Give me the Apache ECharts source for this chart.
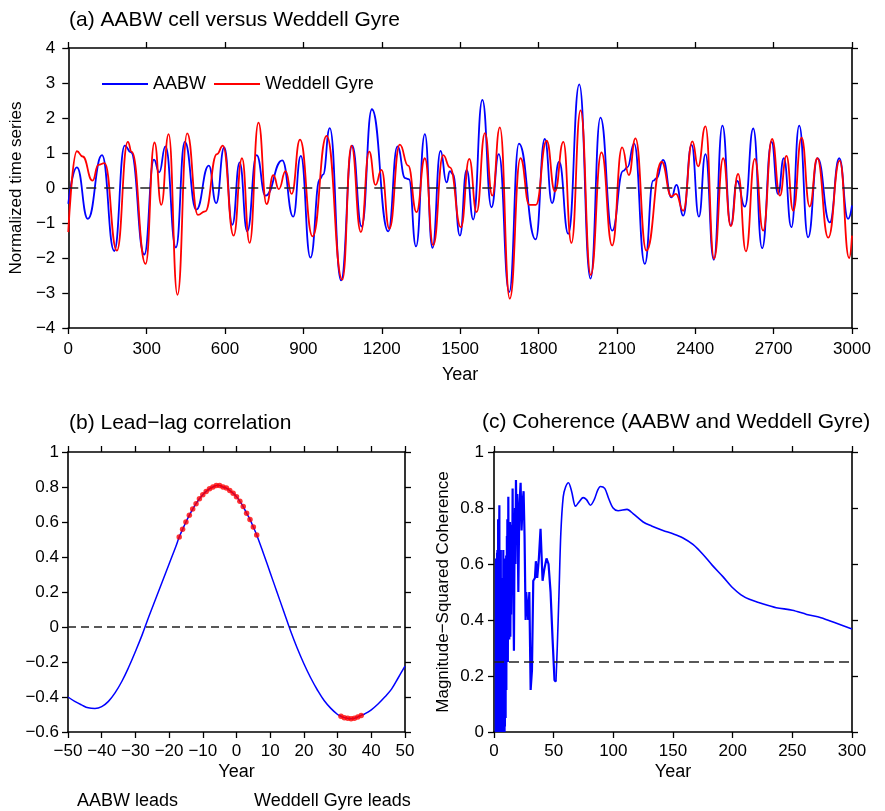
<!DOCTYPE html>
<html><head><meta charset="utf-8">
<script src="https://cdn.jsdelivr.net/npm/echarts@6/dist/echarts.min.js"></script>
<style>html,body{margin:0;padding:0;background:#fff}#c{width:885px;height:811px}</style>
</head><body><div id="c"></div>
<script>
// (a) normalized time series, [year, value] at read-off turning points
const aabw = [[0,-0.45],[33,0.59],[75,-0.88],[129,0.94],[176,-1.80],[216,1.21],[240,1.02],[291,-1.90],[328,0.81],[348,0.45],[372,1.19],[412,-1.70],[446,1.32],[490,-0.62],[538,0.64],[566,-0.43],[597,1.16],[628,-1.05],[656,0.73],[685,-1.24],[721,0.94],[755,-0.22],[819,0.79],[861,-0.82],[890,0.92],[927,-1.99],[963,0.25],[975,0.38],[1001,1.71],[1044,-2.64],[1087,1.21],[1123,-1.10],[1162,2.25],[1225,-1.24],[1260,1.19],[1290,0.28],[1304,0.25],[1331,-1.67],[1365,1.54],[1394,-1.71],[1425,1.06],[1448,0.16],[1461,0.48],[1472,0.40],[1499,-1.36],[1525,0.52],[1550,-0.90],[1585,2.52],[1620,-0.55],[1648,0.97],[1688,-2.97],[1725,1.27],[1789,-1.47],[1824,1.40],[1852,-0.43],[1879,0.75],[1914,-1.31],[1956,2.96],[1999,-2.59],[2037,2.01],[2082,-1.22],[2124,0.49],[2140,0.59],[2166,1.27],[2207,-2.17],[2239,0.21],[2252,0.28],[2277,0.80],[2309,-0.27],[2328,0.09],[2354,-0.79],[2386,1.23],[2414,-0.82],[2439,0.97],[2471,-2.05],[2504,1.78],[2536,-1.07],[2560,0.20],[2590,-0.53],[2622,1.70],[2656,-1.72],[2692,1.32],[2717,-0.17],[2739,0.85],[2768,-1.12],[2798,1.78],[2832,-1.41],[2868,0.85],[2915,-0.98],[2951,0.85],[2985,-0.88],[3000,-0.50]];
const weddell = [[0,-1.26],[33,1.05],[55,0.90],[93,0.21],[115,0.66],[139,0.71],[186,-1.79],[228,1.32],[243,1.03],[296,-2.17],[330,1.30],[356,-0.48],[384,1.54],[418,-3.05],[455,1.56],[496,-0.77],[524,-0.67],[569,0.97],[592,1.21],[633,-1.36],[665,0.85],[694,-1.57],[728,1.87],[759,-0.46],[785,0.37],[806,-0.03],[832,0.48],[855,-0.17],[887,1.38],[935,-1.38],[989,1.49],[1049,-2.62],[1084,1.21],[1120,-1.26],[1152,1.04],[1176,0.09],[1199,0.52],[1229,-1.17],[1269,1.24],[1301,0.64],[1333,-0.69],[1365,0.85],[1397,-1.64],[1435,0.94],[1461,0.59],[1503,-1.12],[1535,0.83],[1563,-0.69],[1595,1.57],[1623,-0.22],[1652,1.73],[1690,-3.16],[1731,0.85],[1765,-0.48],[1790,-0.48],[1831,1.35],[1863,-0.10],[1895,1.32],[1926,-1.57],[1961,2.22],[2000,-2.48],[2041,1.02],[2082,-1.64],[2120,1.16],[2146,0.37],[2171,1.42],[2213,-1.79],[2271,0.75],[2309,-0.24],[2326,-0.17],[2354,-0.65],[2389,1.33],[2411,0.62],[2439,1.76],[2472,-2.02],[2507,0.85],[2536,-1.09],[2564,0.40],[2594,-1.81],[2628,0.83],[2660,-1.22],[2694,1.40],[2724,-0.22],[2749,0.92],[2775,-0.65],[2807,1.44],[2838,-0.53],[2867,0.85],[2909,-1.42],[2953,0.78],[2989,-2.00],[3000,-1.36]];

// (b) lead-lag correlation, [lag, r]
const lagLine = [[-50,-0.40],[-48,-0.425],[-46,-0.445],[-44,-0.462],[-42,-0.465],[-40,-0.455],[-38,-0.425],[-36,-0.375],[-34,-0.31],[-32,-0.23],[-30,-0.14],[-28,-0.045],[-26,0.06],[-24,0.16],[-22,0.26],[-20,0.36],[-18,0.46],
  [-17,0.514],[-16,0.558],[-15,0.60],[-14,0.638],[-13,0.674],[-12,0.705],[-11,0.733],[-10,0.756],[-9,0.775],[-8,0.79],[-7,0.80],[-6,0.808],[-5,0.808],[-4,0.80],[-3,0.794],[-2,0.78],[-1,0.764],[0,0.745],[1,0.718],[2,0.688],[3,0.65],[4,0.615],[5,0.571],[6,0.526],
  [8,0.42],[10,0.31],[12,0.20],[14,0.09],[16,-0.02],[18,-0.12],[20,-0.21],[22,-0.29],[24,-0.36],[26,-0.42],[28,-0.465],[30,-0.50],
  [31,-0.51],[32,-0.518],[33,-0.522],[34,-0.524],[35,-0.522],[36,-0.514],[37,-0.505],
  [38,-0.497],[40,-0.473],[42,-0.44],[44,-0.40],[46,-0.355],[48,-0.29],[50,-0.223]];
const lagDots = [[-17,0.514],[-16,0.558],[-15,0.60],[-14,0.638],[-13,0.674],[-12,0.705],[-11,0.733],[-10,0.756],[-9,0.775],[-8,0.79],[-7,0.80],[-6,0.808],[-5,0.808],[-4,0.80],[-3,0.794],[-2,0.78],[-1,0.764],[0,0.745],[1,0.718],[2,0.688],[3,0.65],[4,0.615],[5,0.571],[6,0.526],
  [31,-0.51],[32,-0.518],[33,-0.522],[34,-0.524],[35,-0.522],[36,-0.514],[37,-0.505]];

// (c) magnitude-squared coherence, [period (yr), coherence]
const cohJagged = [[1.5,0.0],[1.65,0.62],[1.8,0.02],[1.95,0.60],[2.1,0.0],[2.25,0.58],[2.4,0.05],[2.55,0.64],[2.7,0.0],[2.85,0.65],[3.0,0.1],[3.15,0.60],[3.3,0.0],[3.45,0.76],[3.6,0.02],[3.75,0.70],[3.9,0.0],[4.05,0.65],[4.2,0.15],[4.35,0.72],[4.5,0.81],[4.65,0.0],[4.8,0.60],[4.95,0.05],[5.1,0.65],[5.25,0.0],[5.4,0.60],[5.55,0.1],[5.7,0.65],[5.85,0.0],[6.0,0.50],[6.15,0.05],[6.3,0.45],[6.45,0.0],[6.6,0.48],[6.75,0.1],[6.9,0.42],[7.05,0.0],[7.2,0.49],[7.35,0.05],[7.5,0.55],[7.65,0.0],[7.8,0.65],[7.95,0.1],[8.1,0.60],[8.25,0.0],[8.4,0.62],[8.55,0.05],[8.7,0.50],[8.85,0.0],[9.0,0.45],[9.15,0.02],[9.3,0.50],[9.45,0.1],[9.6,0.55],[9.75,0.05],[9.9,0.60],[10.05,0.2],[10.2,0.63],[10.35,0.15],[10.5,0.60],[10.65,0.30],[10.8,0.70],[11.0,0.35],[11.2,0.76],[11.6,0.25],[12.0,0.84],[12.4,0.45],[12.8,0.33],[13.1,0.60],[13.4,0.75],[13.7,0.34],[14.0,0.60],[14.3,0.42],[14.8,0.74],[15.2,0.50],[15.6,0.87],[15.9,0.60],[16.2,0.52],[16.7,0.29],[17.1,0.60],[17.6,0.80],[18.0,0.60],[18.4,0.90],[19.0,0.72],[19.5,0.85],[20.0,0.65],[20.4,0.50],[21.2,0.80],[22.3,0.89],[23.1,0.72],[24.0,0.82],[24.8,0.86],[25.6,0.70],[26.5,0.40],[27.0,0.50],[27.9,0.50],[28.7,0.40],[29.6,0.50],[30.7,0.15],[31.8,0.22],[32.9,0.54],[34.3,0.55],[35.1,0.61],[36.2,0.55],[37.6,0.62],[39.0,0.726],[40.7,0.54],[42.1,0.58],[44.0,0.62],[45.7,0.60],[47.4,0.50],[49.1,0.33],[50.7,0.185],[51.9,0.18]];
const cohSmooth = [[51.9,0.18],[53,0.30],[54.5,0.50],[56,0.71],[58,0.84],[60,0.875],[62.4,0.89],[65,0.86],[68.3,0.806],[71,0.82],[74.7,0.837],[77.5,0.83],[80.8,0.81],[84,0.83],[87,0.865],[89.2,0.877],[92.8,0.87],[96,0.835],[99.8,0.80],[104,0.79],[111.5,0.795],[116.5,0.78],[125,0.75],[132,0.736],[141.6,0.72],[150,0.708],[158,0.694],[166.7,0.67],[175,0.635],[183,0.595],[192,0.554],[200,0.515],[207,0.49],[214,0.474],[225,0.458],[236.5,0.444],[250,0.435],[262,0.42],[274,0.408],[287,0.388],[300,0.368]];
const cohThreshold = 0.25;

const FONT = '"Liberation Sans", Arial, Helvetica, sans-serif';
const minus = v => String(+(Math.round(v * 100) / 100)).replace('-', '\u2212');
const axLine = { show: true, lineStyle: { color: '#000', width: 1.6 } };
const axTick = { show: true, inside: false, length: 6, lineStyle: { color: '#000', width: 1.3 } };

function xAx(grid, pos, min, max, interval, labels, name, nameGap, margin) {
  return { type: 'value', gridIndex: grid, position: pos, min, max, interval,
    axisLine: Object.assign({ onZero: false }, axLine), axisTick: axTick, splitLine: { show: false },
    axisLabel: { show: labels, formatter: minus, color: '#000', fontFamily: FONT, fontSize: 17, margin: margin || 12 },
    name: name || '', nameLocation: 'middle', nameGap: nameGap || 30,
    nameTextStyle: { color: '#000', fontFamily: FONT, fontSize: 18 } };
}
function yAx(grid, pos, min, max, interval, labels, name, nameGap, margin) {
  return { type: 'value', gridIndex: grid, position: pos, min, max, interval,
    axisLine: Object.assign({ onZero: false }, axLine), axisTick: axTick, splitLine: { show: false },
    axisLabel: { show: labels, formatter: minus, color: '#000', fontFamily: FONT, fontSize: 17, margin: margin || 10 },
    name: name || '', nameLocation: 'middle', nameGap: nameGap || 40, nameRotate: 90,
    nameTextStyle: { color: '#000', fontFamily: FONT, fontSize: 17 } };
}
const dashLine = (y, dash) => ({ silent: true, symbol: 'none', label: { show: false },
  lineStyle: { color: '#222', type: dash, width: 1.5 }, data: [{ yAxis: y }] });

const chart = echarts.init(document.getElementById('c'), null, { renderer: 'canvas' });
chart.setOption({
  animation: false,
  backgroundColor: '#fff',
  textStyle: { fontFamily: FONT },
  grid: [
    { left: 68, top: 48, width: 784, height: 280 },
    { left: 68, top: 452, width: 337, height: 280 },
    { left: 494, top: 452, width: 358, height: 280 }
  ],
  xAxis: [
    xAx(0, 'bottom', 0, 3000, 300, true, 'Year', 38, 13),
    xAx(0, 'top', 0, 3000, 300, false),
    xAx(1, 'bottom', -50, 50, 10, true, 'Year', 31, 11),
    xAx(1, 'top', -50, 50, 10, false),
    xAx(2, 'bottom', 0, 300, 50, true, 'Year', 31, 11),
    xAx(2, 'top', 0, 300, 50, false)
  ],
  yAxis: [
    yAx(0, 'left', -4, 4, 1, true, 'Normalized time series', 38, 13),
    yAx(0, 'right', -4, 4, 1, false),
    yAx(1, 'left', -0.6, 1, 0.2, true, '', 40, 9),
    yAx(1, 'right', -0.6, 1, 0.2, false),
    yAx(2, 'left', 0, 1, 0.2, true, 'Magnitude\u2212Squared Coherence', 42, 10),
    yAx(2, 'right', 0, 1, 0.2, false)
  ],
  legend: {
    left: 102, top: 74, padding: 0, itemWidth: 46, itemHeight: 2, itemGap: 8, icon: 'rect',
    data: ['AABW', 'Weddell Gyre'],
    textStyle: { color: '#000', fontFamily: FONT, fontSize: 18, lineHeight: 20 }
  },
  graphic: [
    { type: 'text', left: 69, top: 10, style: { text: '(a) AABW cell versus Weddell Gyre', font: '21px ' + FONT, fill: '#000' } },
    { type: 'text', left: 69, top: 413, style: { text: '(b) Lead\u2212lag correlation', font: '21px ' + FONT, fill: '#000' } },
    { type: 'text', left: 482, top: 412, style: { text: '(c) Coherence (AABW and Weddell Gyre)', font: '21px ' + FONT, fill: '#000' } },
    { type: 'text', left: 77, top: 792, style: { text: 'AABW leads', font: '18px ' + FONT, fill: '#000' } },
    { type: 'text', left: 254, top: 792, style: { text: 'Weddell Gyre leads', font: '18px ' + FONT, fill: '#000' } }
  ],
  series: [
    { name: 'AABW', type: 'line', xAxisIndex: 0, yAxisIndex: 0, data: aabw, showSymbol: false, symbol: 'none',
      smooth: 0.5, smoothMonotone: 'x', lineStyle: { color: '#0000ff', width: 1.8 }, itemStyle: { color: '#0000ff' } },
    { name: 'Weddell Gyre', type: 'line', xAxisIndex: 0, yAxisIndex: 0, data: weddell, showSymbol: false, symbol: 'none',
      smooth: 0.5, smoothMonotone: 'x', lineStyle: { color: '#ff0000', width: 1.8 }, itemStyle: { color: '#ff0000' },
      markLine: dashLine(0, [10, 8]) },
    { name: 'lag', type: 'line', xAxisIndex: 2, yAxisIndex: 2, data: lagLine, showSymbol: false, symbol: 'none', smooth: 0.4,
      lineStyle: { color: '#0000ff', width: 1.5 }, markLine: dashLine(0, [8, 5]) },
    { name: 'sig', type: 'scatter', xAxisIndex: 2, yAxisIndex: 2, data: lagDots, symbol: 'circle', symbolSize: 5.5, z: 5,
      itemStyle: { color: '#ff0000' } },
    { name: 'coh1', type: 'line', xAxisIndex: 4, yAxisIndex: 4, data: cohJagged, showSymbol: false, symbol: 'none',
      lineStyle: { color: '#0000ff', width: 2.2 }, markLine: dashLine(cohThreshold, [10, 5]) },
    { name: 'coh2', type: 'line', xAxisIndex: 4, yAxisIndex: 4, data: cohSmooth, showSymbol: false, symbol: 'none', smooth: 0.3,
      lineStyle: { color: '#0000ff', width: 1.6 } }
  ]
});
</script>
</body></html>
